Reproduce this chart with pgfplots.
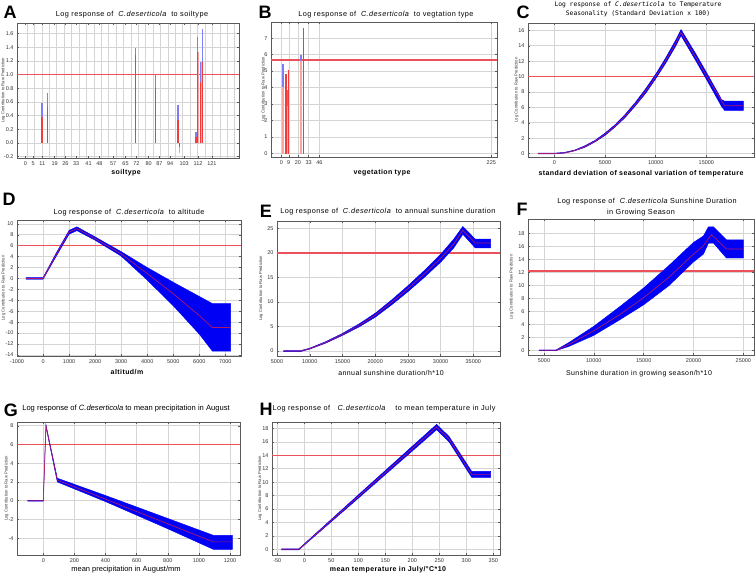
\documentclass[border=0pt]{standalone}
\usepackage{fontspec}
\setmainfont{Liberation Sans}
\newfontfamily\ttl[LetterSpace=6]{Liberation Sans}
\newfontfamily\ttm{DejaVu Sans Mono}
\usepackage{pgfplots}
\pgfplotsset{compat=1.18}
\definecolor{hl}{RGB}{236,80,90}
\definecolor{crv}{RGB}{215,30,70}
\definecolor{gridc}{RGB}{212,212,212}
\definecolor{framec}{RGB}{90,90,90}
\definecolor{bandc}{RGB}{0,0,245}
\definecolor{pinkb}{RGB}{250,165,165}
\definecolor{lblue}{RGB}{125,125,245}
\definecolor{barred}{RGB}{240,60,60}
\definecolor{cyanb}{RGB}{120,215,205}
\newcommand\cd{{\itshape C.deserticola}}
\pgfplotsset{
 panel/.style={
  scale only axis, anchor=north west,
  axis line style={framec, line width=0.5pt},
  every tick/.style={framec, line width=0.4pt},
  major tick length=2pt, minor tick length=0pt,
  tick align=inside,
  grid=major, grid style={gridc, line width=0.5pt},
  minor grid style={gridc, line width=0.5pt},
  ticklabel style={font=\fontsize{5.5}{6}\selectfont, text=black!80},
  /pgf/number format/assume math mode=true,
  /pgf/number format/1000 sep={},
  scaled ticks=false,
  ylabel={Log Contribution to Raw Prediction},
  ylabel style={font=\fontsize{4.2}{4.5}\selectfont, text=black!80, anchor=center},
  xticklabel style={yshift=-0.5pt},
 },
 ylpos/.style={ylabel style={at={(axis description cs:-#1,0.5)}}},
 band/.style={fill=bandc, draw=bandc, line width=0.4pt},
 curve/.style={crv, line width=0.7pt, opacity=0.8},
 hline/.style={hl, line width=1.3pt, opacity=1},
}
\begin{document}
\begin{tikzpicture}
\path[use as bounding box] (0pt,0pt) rectangle (756pt,-575pt);
% ---------------- A
\begin{axis}[panel, ylpos=0.062, at={(17pt,-23pt)}, width=222pt, height=135pt,
  xmin=-5.4, xmax=138.6, ymin=-0.22, ymax=1.755,
  xtick={0,5,11,19,26,33,41,48,57,65,72,80,87,94,103,112,121},
  xmajorgrids=false, xminorgrids=true,
  minor xtick={1.1,5.91,...,137},
  ytick={-0.2,0,0.2,0.4,0.6,0.8,1.0,1.2,1.4,1.6},
  yticklabel style={/pgf/number format/.cd, fixed, fixed zerofill, precision=1},
  ]
\addplot[hline] coordinates {(-5.4,1.0) (138.6,1.0)};
\addplot[pinkb, line width=2.6pt, unbounded coords=jump] coordinates {(111.9,0) (111.9,1.33) (111.9,nan) (114.3,0) (114.3,1.18)};
\addplot[barred, line width=1.4pt, unbounded coords=jump] coordinates {
 (10.8,0) (10.8,0.375) (10.8,nan)
 (14.5,0) (14.5,0.53) (14.5,nan)
 (71.5,0) (71.5,1.29) (71.5,nan)
 (84.4,0) (84.4,0.80) (84.4,nan)
 (99.1,0) (99.1,0.33) (99.1,nan)
 (100.1,0) (100.1,-0.06) (100.1,nan)
 (110.6,0) (110.6,0.08) (110.6,nan)
 (111.7,0) (111.7,1.33) (111.7,nan)
 (113.7,0) (113.7,0.89) (113.7,nan)
 (115.0,0) (115.0,1.18)};
\addplot[lblue, line width=1.4pt, unbounded coords=jump] coordinates {
 (10.8,0.375) (10.8,0.58) (10.8,nan)
 (14.5,0.53) (14.5,0.73) (14.5,nan)
 (71.5,1.29) (71.5,1.385) (71.5,nan)
 (84.4,0.80) (84.4,1.01) (84.4,nan)
 (99.1,0.33) (99.1,0.56) (99.1,nan)
 (110.6,0.08) (110.6,0.156) (110.6,nan)
 (111.7,1.33) (111.7,1.55) (111.7,nan)
 (113.7,0.89) (113.7,1.19) (113.7,nan)
 (115.0,1.18) (115.0,1.67)};
\addplot[cyanb, line width=1.4pt] coordinates {(100.1,-0.06) (100.1,-0.15)};
\end{axis}
% ---------------- B
\begin{axis}[panel, ylpos=0.033, at={(271pt,-22pt)}, width=226pt, height=135pt,
  xmin=-12.5, xmax=261.1, ymin=-0.21, ymax=7.98,
  xtick={0,9,20,33,46,254.2}, xticklabels={0,9,20,33,46,225},
  ytick={0,1,...,7},
  ]
\addplot[hline] coordinates {(-12.5,5.67) (261.1,5.67)};
\addplot[pinkb, line width=2pt, unbounded coords=jump] coordinates {(2,0) (2,4.05) (2,nan) (7.7,0) (7.7,2.9) (7.7,nan) (23.8,0) (23.8,5.6)};
\addplot[lblue, line width=2pt, unbounded coords=jump] coordinates {(2,4.05) (2,5.45) (2,nan) (7.7,2.9) (7.7,3.85) (7.7,nan) (23.8,5.6) (23.8,6.0)};
\addplot[barred, line width=1.4pt, unbounded coords=jump] coordinates {(5.6,0) (5.6,4.8) (5.6,nan) (8.9,0) (8.9,5.05) (8.9,nan) (27,0) (27,7.6)};
\end{axis}
% ---------------- C
\begin{axis}[panel, ylpos=0.051, at={(528pt,-23pt)}, width=226pt, height=134pt,
  xmin=-2600, xmax=19700, ymin=-0.45, ymax=16.95,
  xtick={0,5000,10000,15000}, ytick={0,2,...,16},
  ]
\addplot[hline] coordinates {(-2600,10) (19700,10)};
\addplot[band] coordinates {(-1600,0.05) (0,0.05) (1000,0.15) (2000,0.45) (3000,1.0) (4000,1.7) (5000,2.65) (6000,3.75) (7000,5.1) (8000,6.65) (9000,8.4) (10000,10.3) (11000,12.45) (12000,14.8) (12500,16.1) (14000,12.85) (15000,10.55) (16300,7.5) (16500,7.0) (16800,6.8) (18650,6.8)
 (18650,5.6) (16800,5.6) (16500,6.1) (15000,9.65) (14000,11.95) (12500,15.3) (12000,14.0) (11000,11.75) (10000,9.7) (9000,7.8) (8000,6.2) (7000,4.7) (6000,3.45) (5000,2.35) (4000,1.5) (3000,0.8) (2000,0.35) (1000,0.05) (0,-0.05) (-1600,-0.05)} -- cycle;
\addplot[curve] coordinates {(-1600,0) (0,0) (500,0.03) (1000,0.1) (1500,0.22) (2000,0.4) (2500,0.62) (3000,0.9) (3500,1.22) (4000,1.6) (4500,2.02) (5000,2.5) (5500,3.02) (6000,3.6) (6500,4.22) (7000,4.9) (7500,5.62) (8000,6.4) (8500,7.22) (9000,8.1) (9500,9.02) (10000,10) (10500,11.02) (11000,12.1) (11500,13.22) (12000,14.4) (12500,15.7) (14000,12.4) (15000,10.1) (16800,6.2) (18650,6.2)};
\end{axis}
% ---------------- D
\begin{axis}[panel, ylpos=0.060, at={(17pt,-220pt)}, width=224pt, height=136pt,
  xmin=-1000, xmax=7600, ymin=-14.2, ymax=10.7,
  xtick={-1000,0,...,7000}, ytick={-14,-12,...,10},
  ]
\addplot[hline] coordinates {(-1000,6) (7600,6)};
\addplot[band] coordinates {(-650,0.15) (0,0.15) (500,4.6) (1000,8.8) (1300,9.45) (2000,7.6) (3000,4.9) (4000,2.0) (5000,-0.7) (6000,-3.3) (6500,-4.6) (7200,-4.6)
 (7200,-13.3) (6500,-13.3) (6000,-10.2) (5000,-5.0) (4000,-0.3) (3000,4.1) (2000,7.0) (1300,8.75) (1000,8.1) (500,4.0) (0,-0.15) (-650,-0.15)} -- cycle;
\addplot[curve] coordinates {(-650,0) (0,0) (500,4.3) (1000,8.5) (1300,9.1) (2000,7.3) (3000,4.5) (4000,0.9) (5000,-2.8) (6000,-6.8) (6500,-9) (7200,-9)};
\end{axis}
% ---------------- E
\begin{axis}[panel, ylpos=0.072, at={(277pt,-221pt)}, width=223pt, height=135pt,
  xmin=5000, xmax=39075, ymin=-1.0, ymax=26.5,
  xtick={5000,10000,...,35000}, ytick={0,5,...,25},
  ]
\addplot[hline] coordinates {(5000,20) (39075,20)};
\addplot[band] coordinates {(6000,0.1) (8600,0.1) (10000,0.6) (12500,1.95) (15000,3.6) (17500,5.5) (20000,7.7) (22500,10.4) (25000,13.3) (27500,16.4) (30000,19.7) (32000,22.8) (33400,25.4) (35300,22.8) (37650,22.8)
 (37650,21.0) (35300,21.0) (33400,23.8) (32000,21.0) (30000,18.1) (27500,15.0) (25000,12.1) (22500,9.4) (20000,6.9) (17500,4.9) (15000,3.2) (12500,1.65) (10000,0.4) (8600,-0.1) (6000,-0.1)} -- cycle;
\addplot[curve] coordinates {(6000,0) (8600,0) (10000,0.5) (12500,1.8) (15000,3.4) (17500,5.2) (20000,7.3) (22500,9.9) (25000,12.7) (27500,15.7) (30000,18.9) (32000,21.8) (33400,24.6) (35300,22) (37650,22)};
\end{axis}
% ---------------- F
\begin{axis}[panel, ylpos=0.073, at={(528pt,-219pt)}, width=226pt, height=136pt,
  xmin=3395, xmax=26070, ymin=-0.72, ymax=20.2,
  xtick={5000,10000,...,25000}, ytick={0,2,...,18},
  ]
\addplot[hline] coordinates {(3395,12.2) (26070,12.2)};
\addplot[band] coordinates {(4500,0.05) (6200,0.05) (7500,1.2) (10000,3.7) (12500,6.6) (15000,9.6) (17500,13.0) (20000,16.6) (21000,17.6) (21500,19.0) (22000,19.0) (23300,17.0) (25000,17.0)
 (25000,14.2) (23300,14.2) (22000,16.5) (21500,16.5) (21000,14.8) (20000,13.6) (17500,9.9) (15000,7.0) (12500,4.6) (10000,2.3) (7500,0.6) (6200,-0.05) (4500,-0.05)} -- cycle;
\addplot[curve] coordinates {(4500,0) (6200,0) (7500,0.9) (10000,3.0) (12500,5.4) (15000,8.1) (17500,11.2) (20000,14.8) (21000,16.1) (21800,17.8) (23300,15.6) (25000,15.6)};
\end{axis}
% ---------------- G
\begin{axis}[panel, ylpos=0.047, at={(17pt,-422pt)}, width=223pt, height=133pt,
  xmin=-169, xmax=1264, ymin=-5.8, ymax=8.4,
  xtick={0,200,...,1200}, ytick={-4,-2,...,8},
  ]
\addplot[hline] coordinates {(-169,6) (1264,6)};
\addplot[band] coordinates {(-100,0.05) (0,0.05) (17,8.1) (90,2.4) (400,0.55) (800,-1.9) (1093,-3.7) (1215,-3.7)
 (1215,-5.2) (1093,-5.2) (800,-3.0) (400,-0.1) (90,2.0) (17,7.9) (0,-0.05) (-100,-0.05)} -- cycle;
\addplot[curve] coordinates {(-100,0) (0,0) (17,8.0) (90,2.2) (1093,-4.4) (1215,-4.4)};
\end{axis}
% ---------------- H
\begin{axis}[panel, ylpos=0.053, at={(272pt,-422pt)}, width=228pt, height=133pt,
  xmin=-59.8, xmax=362.4, ymin=-0.85, ymax=18.95,
  xtick={-50,0,...,350}, ytick={0,2,...,18},
  ]
\addplot[hline] coordinates {(-59.8,14) (362.4,14)};
\addplot[band] coordinates {(-42,0.08) (-10,0.08) (100,8.1) (245,18.6) (268,16.8) (310,11.6) (345,11.6)
 (345,10.7) (310,10.7) (268,16.0) (245,17.8) (100,7.6) (-10,-0.08) (-42,-0.08)} -- cycle;
\addplot[curve] coordinates {(-42,0) (-10,0) (245,18.2) (268,16.4) (310,11.15) (345,11.15)};
\end{axis}
% ---------------- panel letters
\begin{scope}[every node/.style={font=\bfseries\fontsize{18}{18}\selectfont, inner sep=0pt}]
\node at (10pt,-12pt) {A};
\node at (265pt,-12pt) {B};
\node at (523pt,-12pt) {C};
\node at (9pt,-199pt) {D};
\node at (266pt,-211pt) {E};
\node at (522pt,-209pt) {F};
\node at (11pt,-410pt) {G};
\node at (266pt,-409pt) {H};
\end{scope}
% ---------------- titles
\begin{scope}[every node/.style={font=\ttl\fontsize{7.3}{8}\selectfont, inner sep=0pt}]
\node at (132pt,-15pt) {Log response of \ \cd\ \ to soiltype};
\node at (386pt,-15pt) {Log response of \ \cd\ \ to vegtation type};
\node at (129pt,-213pt) {Log response of \ \cd\ \ to altitude};
\node at (388pt,-212pt) {Log response of \ \cd\ \ to annual sunshine duration};
\node at (647pt,-202pt) {Log response of \ \cd\ Sunshine Duration};
\node at (641pt,-213pt) {in Growing Season};
\node at (384pt,-409pt) {Log response of \ \ \cd\ \ \ \ to mean temperature in July};
\end{scope}
\node[font=\fontsize{7.6}{8}\selectfont, inner sep=0pt] at (126pt,-409pt) {Log response of \cd\ to mean precipitation in August};
\begin{scope}[every node/.style={font=\ttm\fontsize{6.3}{7}\selectfont, inner sep=0pt}]
\node at (638pt,-4.5pt) {Log response of \cd\ to Temperature};
\node at (638pt,-14pt) {Seasonality (Standard Deviation x 100)};
\end{scope}
% ---------------- x labels
\begin{scope}[every node/.style={font=\ttl\bfseries\fontsize{7}{8}\selectfont, inner sep=0pt}]
\node at (126pt,-173pt) {soiltype};
\node at (382pt,-173pt) {vegetation type};
\node at (641pt,-174pt) {standard deviation of seasonal variation of temperature};
\node at (127pt,-372pt) {altitud/m};
\node at (388pt,-570pt) {mean temperature in July/°C*10};
\end{scope}
\begin{scope}[every node/.style={font=\ttl\fontsize{7}{8}\selectfont, inner sep=0pt}]
\node at (391pt,-373pt) {annual sunshine duration/h*10};
\node at (639pt,-374pt) {Sunshine duration in growing season/h*10};
\end{scope}
\node[font=\fontsize{7.5}{8}\selectfont, inner sep=0pt] at (126pt,-570pt) {mean precipitation in August/mm};
\end{tikzpicture}
\end{document}
